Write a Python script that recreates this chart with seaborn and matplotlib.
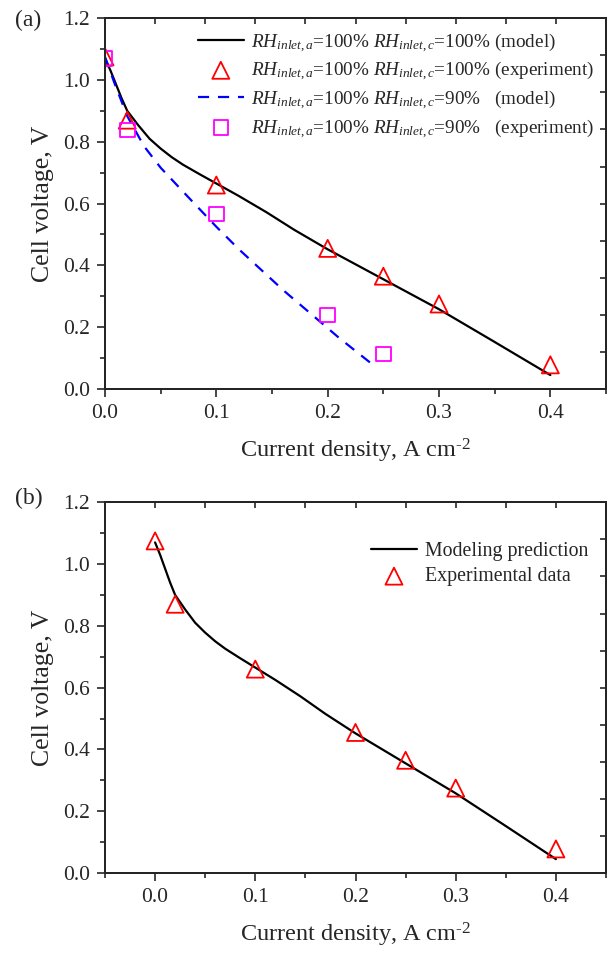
import matplotlib
matplotlib.use("Agg")
import matplotlib.pyplot as plt
from matplotlib.ticker import MultipleLocator, NullFormatter, FormatStrFormatter
import seaborn as sns
import pandas as pd

# Polarization data: current density (A cm^-2) vs cell voltage (V)
model_100_i = [0.0, 0.005, 0.01, 0.015, 0.02, 0.03, 0.04, 0.05, 0.06, 0.07, 0.085,
               0.1, 0.12, 0.145, 0.17, 0.2, 0.25, 0.3, 0.35, 0.4]
model_100_v = [1.07, 1.03, 0.985, 0.94, 0.90, 0.853, 0.81, 0.778, 0.75, 0.726, 0.695,
               0.665, 0.625, 0.572, 0.515, 0.452, 0.355, 0.258, 0.152, 0.045]

exp_100_i = [0.0, 0.02, 0.1, 0.2, 0.25, 0.3, 0.4]
exp_100_v = [1.075, 0.87, 0.66, 0.455, 0.365, 0.275, 0.078]

model_90_i = [0.0, 0.0085, 0.02, 0.035, 0.05, 0.075, 0.1, 0.12, 0.16, 0.21, 0.24]
model_90_v = [1.075, 0.99, 0.883, 0.786, 0.716, 0.62, 0.525, 0.453, 0.32, 0.166, 0.08]

exp_90_i = [0.0, 0.02, 0.1, 0.2, 0.25]
exp_90_v = [1.07, 0.838, 0.566, 0.24, 0.113]

labels_a = [
    r"$RH_{inlet,a}$=100% $RH_{inlet,c}$=100% (model)",
    r"$RH_{inlet,a}$=100% $RH_{inlet,c}$=100% (experiment)",
    r"$RH_{inlet,a}$=100% $RH_{inlet,c}$=90%   (model)",
    r"$RH_{inlet,a}$=100% $RH_{inlet,c}$=90%   (experiment)",
]
labels_b = ["Modeling prediction", "Experimental data"]

sns.set_style("ticks")
plt.rcParams["font.family"] = ["Liberation Serif", "DejaVu Serif"]
plt.rcParams["mathtext.fontset"] = "custom"
plt.rcParams["mathtext.rm"] = "Liberation Serif"
plt.rcParams["mathtext.it"] = "Liberation Serif:italic"
plt.rcParams["mathtext.bf"] = "Liberation Serif:bold"
plt.rcParams["axes.linewidth"] = 1.3

fig = plt.figure(figsize=(6.14, 9.58), dpi=100)
ax_a = fig.add_axes([0.171, 0.594, 0.816, 0.387])
ax_b = fig.add_axes([0.171, 0.0887, 0.816, 0.387])

df_m100 = pd.DataFrame({"i": model_100_i, "v": model_100_v})
df_e100 = pd.DataFrame({"i": exp_100_i, "v": exp_100_v})
df_m90 = pd.DataFrame({"i": model_90_i, "v": model_90_v})
df_e90 = pd.DataFrame({"i": exp_90_i, "v": exp_90_v})

tri = dict(marker="^", s=150, facecolor="none", edgecolor="#ff0000", linewidth=1.3)
sq = dict(marker="s", s=110, facecolor="none", edgecolor="#ff00ff", linewidth=1.3)

# Panel (a)
sns.lineplot(data=df_m100, x="i", y="v", ax=ax_a, color="black", lw=1.6,
             label=labels_a[0], sort=False, estimator=None)
sns.scatterplot(data=df_e100, x="i", y="v", ax=ax_a, label=labels_a[1], zorder=3, **tri)
sns.lineplot(data=df_m90, x="i", y="v", ax=ax_a, color="#0000ff", lw=1.6,
             linestyle=(0, (5, 4)), label=labels_a[2], sort=False, estimator=None)
sns.scatterplot(data=df_e90, x="i", y="v", ax=ax_a, label=labels_a[3], zorder=3, **sq)
ax_a.set_xlim(0, 0.45)

# Panel (b)
sns.lineplot(data=df_m100, x="i", y="v", ax=ax_b, color="black", lw=1.6,
             label=labels_b[0], sort=False, estimator=None)
sns.scatterplot(data=df_e100, x="i", y="v", ax=ax_b, label=labels_b[1], zorder=3, **tri)
ax_b.set_xlim(-0.05, 0.45)

for ax, tag, tag_y in ((ax_a, "(a)", 0.995), (ax_b, "(b)", 1.01)):
    ax.set_ylim(0, 1.2)
    ax.xaxis.set_major_locator(MultipleLocator(0.1))
    ax.xaxis.set_minor_locator(MultipleLocator(0.05))
    ax.yaxis.set_major_locator(MultipleLocator(0.2))
    ax.yaxis.set_minor_locator(MultipleLocator(0.1))
    ax.xaxis.set_major_formatter(FormatStrFormatter("%.1f"))
    ax.yaxis.set_major_formatter(FormatStrFormatter("%.1f"))
    ax.tick_params(which="major", direction="out", length=6, width=1.2, labelsize=15.5, pad=5)
    ax.tick_params(which="minor", direction="out", length=3.5, width=1.2)
    for s in ax.spines.values():
        s.set_visible(True)
        s.set_color("black")
    ax.set_xlabel(r"Current density, A cm$^{\text{-2}}$", fontsize=17.5, labelpad=10)
    ax.set_ylabel("Cell voltage, V", fontsize=18.5, labelpad=6)
    ax.text(-0.18, tag_y, tag, transform=ax.transAxes, fontsize=17, va="center", ha="left")

    # mirrored top/right axes with their own inward ticks
    top = ax.twiny()
    top.set_xlim(0, 10)
    top.set_xticks(range(1, 10))
    top.xaxis.set_major_formatter(NullFormatter())
    top.tick_params(axis="x", direction="in", length=4, width=1.2)
    right = ax.twinx()
    right.set_ylim(0, 10)
    right.set_yticks(range(1, 10))
    right.yaxis.set_major_formatter(NullFormatter())
    right.tick_params(axis="y", direction="in", length=4, width=1.2)
    for t in (top, right):
        t.grid(False)

ax_a.legend(loc="upper right", fontsize=13.8, frameon=False, handlelength=2.4,
            handletextpad=0.35, labelspacing=0.3, borderaxespad=0.25)
ax_b.legend(loc="upper right", bbox_to_anchor=(1.0, 0.94), fontsize=14.3, frameon=False,
            handlelength=2.3, handletextpad=0.4, labelspacing=0.3)

fig.savefig("out.png", dpi=100)
